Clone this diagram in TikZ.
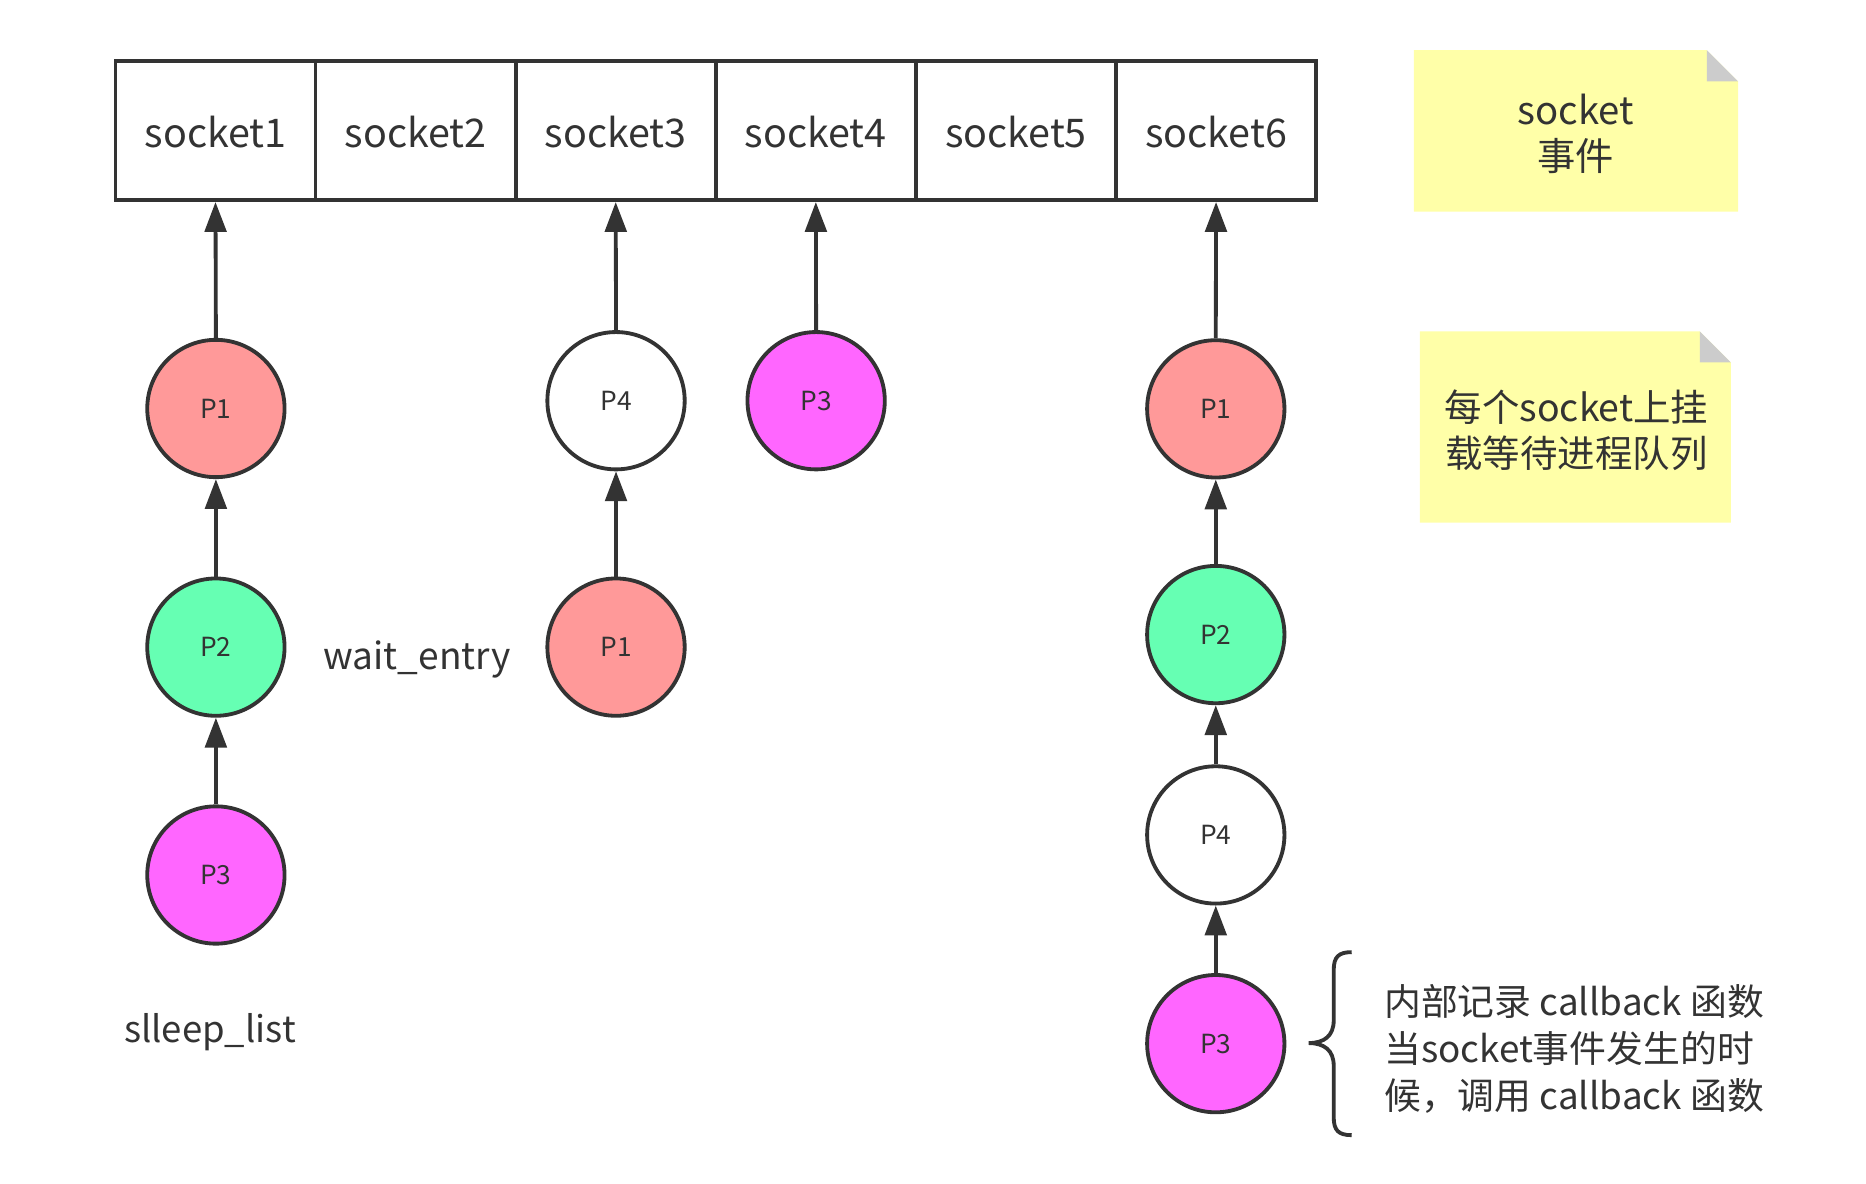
\documentclass[tikz,border=0pt]{standalone}
\usepackage{fontspec}
\setmainfont{Noto Sans CJK SC}
\usetikzlibrary{arrows.meta}
\definecolor{ink}{HTML}{333333}
\definecolor{pone}{HTML}{FF9999}
\definecolor{ptwo}{HTML}{66FFB3}
\definecolor{pthree}{HTML}{FF66FF}
\definecolor{notey}{HTML}{FFFFA8}
\definecolor{foldgray}{HTML}{CCCCCC}
\tikzset{
  cell/.style={draw=ink, line width=3.2pt, minimum width=167.3pt, minimum height=116.5pt,
    inner sep=0pt, text height=29pt, text depth=0pt, text=ink, font=\fontsize{33}{40}\selectfont},
  proc/.style={circle, draw=ink, line width=3.2pt, minimum size=114.8pt, inner sep=0pt,
    text=ink, font=\fontsize{22}{26}\selectfont},
  conn/.style={draw=ink, line width=3.2pt, -{Triangle[length=25pt,width=18pt]}},
  lbl/.style={text=ink, inner sep=0pt, font=\fontsize{31}{38}\selectfont},
  notetext/.style={text=ink, inner sep=0pt, align=center, font=\fontsize{32}{39}\selectfont},
  bracetext/.style={text=ink, inner sep=0pt, align=left, font=\fontsize{30.8}{39}\selectfont}
}
\begin{document}
\begin{tikzpicture}[x=1pt,y=-1pt]
\useasboundingbox (0,0) rectangle (1560,989);
% socket table
\foreach \i in {1,...,6}
  \node[cell] (s\i) at ({96.5+167.3*(\i-0.5)},109) {socket\i};
% column 1
\node[proc, fill=pone]   (a1) at (180.5,341.5) {P1};
\node[proc, fill=ptwo]   (a2) at (180.5,541) {P2};
\node[proc, fill=pthree] (a3) at (180.5,731.5) {P3};
% column 3
\node[proc, fill=white]  (b1) at (515,335) {P4};
\node[proc, fill=pone]   (b2) at (515,541) {P1};
% column 4
\node[proc, fill=pthree] (c1) at (682.3,335) {P3};
% column 6
\node[proc, fill=pone]   (d1) at (1016.4,341.8) {P1};
\node[proc, fill=ptwo]   (d2) at (1016.4,530.5) {P2};
\node[proc, fill=white]  (d3) at (1016.4,698) {P4};
\node[proc, fill=pthree] (d4) at (1016.4,872.5) {P3};
% connectors
\draw[conn] (a1.north) -- (s1.south);
\draw[conn] (a2.north) -- (a1.south);
\draw[conn] (a3.north) -- (a2.south);
\draw[conn] (b1.north) -- (s3.south);
\draw[conn] (b2.north) -- (b1.south);
\draw[conn] (c1.north) -- (s4.south);
\draw[conn] (d1.north) -- (s6.south);
\draw[conn] (d2.north) -- (d1.south);
\draw[conn] (d3.north) -- (d2.south);
\draw[conn] (d4.north) -- (d3.south);
% labels
\node[lbl, anchor=base] (we) at (348.5,559.7) {wait\_entry};
\node[lbl, anchor=base, font=\fontsize{30.5}{38}\selectfont] (sl) at (175.5,871.8) {slleep\_list};
% notes
\fill[notey] (1182,42) -- (1427,42) -- (1453,68) -- (1453,177) -- (1182,177) -- cycle;
\fill[foldgray] (1427,42) -- (1453,68) -- (1427,68) -- cycle;
\node[notetext] (n1) at (1317.5,112) {socket\\事件};
\fill[notey] (1187,277) -- (1421,277) -- (1447,303) -- (1447,437) -- (1187,437) -- cycle;
\fill[foldgray] (1421,277) -- (1447,303) -- (1421,303) -- cycle;
\node[notetext, font=\fontsize{31.3}{38.5}\selectfont] (n2) at (1318,360) {每个socket上挂\\载等待进程队列};
% brace
\draw[ink, line width=3.2pt]
  (1130,796) .. controls (1119,796) and (1115,800) .. (1115,811)
  -- (1115,853) .. controls (1115,866) and (1107,872) .. (1094,872)
  .. controls (1107,872) and (1115,878) .. (1115,891)
  -- (1115,934) .. controls (1115,945) and (1119,949) .. (1130,949);
\node[bracetext, anchor=west] (bt) at (1157,877) {内部记录 callback 函数\\当socket事件发生的时\\候，调用 callback 函数};
\end{tikzpicture}
\end{document}
